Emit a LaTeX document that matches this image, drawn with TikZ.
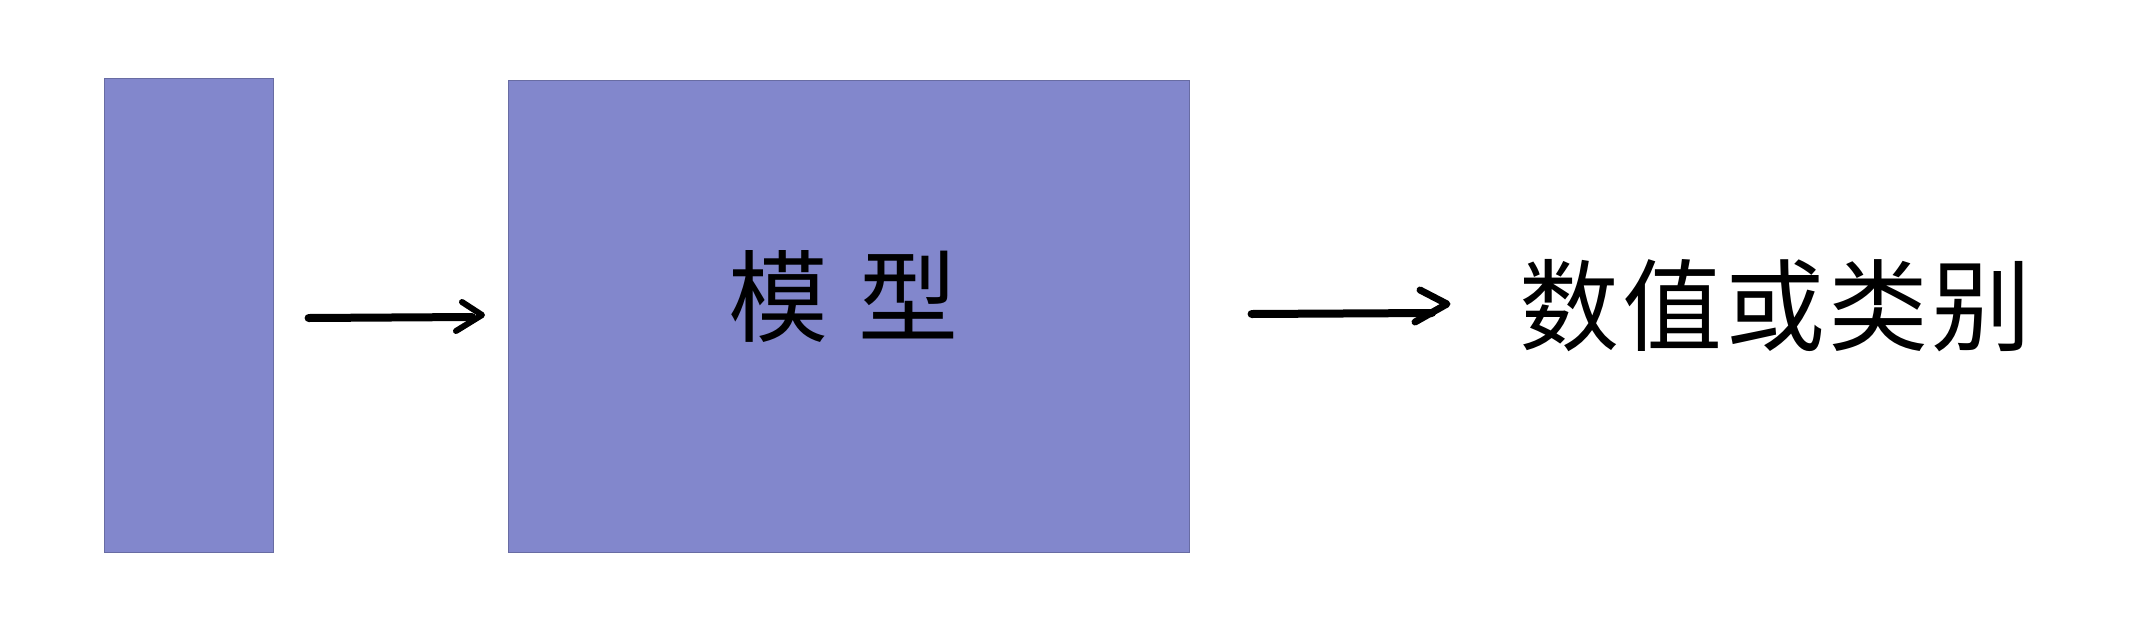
\documentclass[tikz,border=0pt]{standalone}
\usepackage{fontspec}
\newfontfamily\cjk{Noto Sans CJK SC}
\definecolor{boxblue}{HTML}{8287CC}
\tikzset{
  blockbox/.style={fill=boxblue, draw=boxblue!80!black, line width=0.6pt, inner sep=0pt, anchor=north west},
  handline/.style={line width=8pt, line cap=round, line join=round, black},
  bigtext/.style={font=\cjk\fontsize{100}{100}\selectfont, inner sep=0pt}
}
\begin{document}
\begin{tikzpicture}[x=1pt,y=-1pt]
\useasboundingbox (0,0) rectangle (2131,630);
\node[blockbox, minimum width=169pt, minimum height=474pt] (inbox) at (104,78) {};
\node[blockbox, minimum width=681pt, minimum height=472pt] (model) at (508,80) {};
\node[bigtext] (mt) at (843,296) {模\hspace{30pt}型};
\node[bigtext] (out) at (1775,306) {数\hspace{3pt}值\hspace{3pt}或\hspace{3pt}类\hspace{3pt}别};
\coordinate (a1s) at (308,318);
\coordinate (a1e) at (472,317);
\coordinate (a2s) at (1251,314);
\coordinate (a2e) at (1432,313);
\draw[handline] (inbox.east |- a1s) ++(35,0) -- (a1e);
\draw[handline, line width=6pt] (462,302) -- (482,315) -- (456,331);
\draw[handline] (model.east |- a2s) ++(62,0) -- (a2e);
\draw[handline, line width=7pt] (1420,290) -- (1447,304) -- (1415,322);
\end{tikzpicture}
\end{document}
